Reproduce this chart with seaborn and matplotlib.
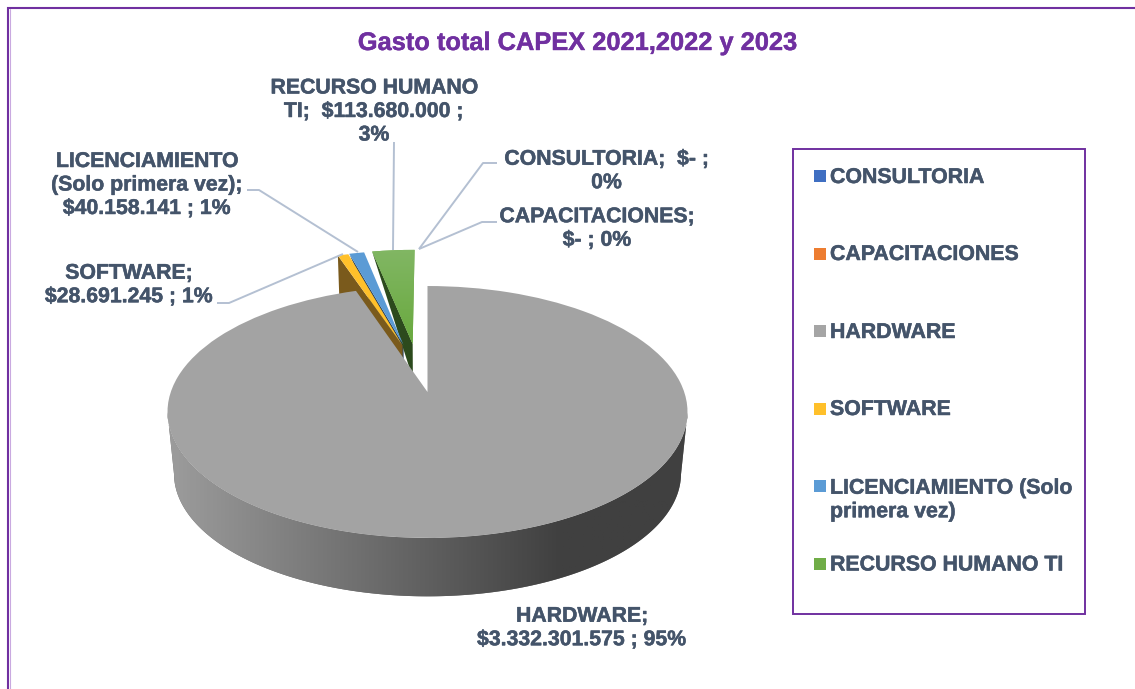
import numpy as np
import matplotlib
matplotlib.use("Agg")
import matplotlib.pyplot as plt
import matplotlib.patheffects as pe
from matplotlib.transforms import Transform
from matplotlib.colors import LinearSegmentedColormap
from matplotlib.patches import Rectangle
import seaborn as sns

categories = ["CONSULTORIA", "CAPACITACIONES", "HARDWARE", "SOFTWARE",
              "LICENCIAMIENTO (Solo\nprimera vez)", "RECURSO HUMANO TI"]
values = [0, 0, 3332301575, 28691245, 40158141, 113680000]
explode = [0.42, 0.42, 0, 0.39, 0.42, 0.42]
colors = ["#3f6fc2", "#ed7d31", "#a3a3a3", "#ffc02a", "#5b9bd5", "#70ad47"]
dark_colors = ["#24406f", "#8a4a1d", "#5a5a5a", "#7a5a1c", "#24405f", "#2c4a1d"]

title = "Gasto total CAPEX 2021,2022 y 2023"
data_labels = [
    "CONSULTORIA;  $- ;\n0%",
    "CAPACITACIONES;\n$- ; 0%",
    "HARDWARE;\n$3.332.301.575 ; 95%",
    "SOFTWARE;\n$28.691.245 ; 1%",
    "LICENCIAMIENTO\n(Solo primera vez);\n$40.158.141 ; 1%",
    "RECURSO HUMANO\nTI;  $113.680.000 ;\n3%",
]

PURPLE = "#7030a0"
TEXT = "#44546a"
LEADER = "#b4c0d2"

sns.set_theme(style="white")
plt.rcParams["font.family"] = ["Liberation Sans", "DejaVu Sans"]

# perspective projection of the unit disc onto the page (pixels)
CX, CY, A, B, K = 427.5, 392.0, 256.7, 122.8, 0.1587
BASE_SCALE, BASE_DROP = 0.975, 62.0


def project(x, y):
    w = 1 + K * np.asarray(y)
    return CX + A * np.asarray(x) / w, CY - B * np.asarray(y) / w


def project_base(x, y):
    sx, sy = project(x, y)
    return CX + (sx - CX) * BASE_SCALE, CY + (sy - CY) * BASE_SCALE + BASE_DROP


class Perspective(Transform):
    input_dims = output_dims = 2
    has_inverse = False
    is_separable = False

    def transform_non_affine(self, values):
        v = np.asarray(values, dtype=float)
        sx, sy = project(v[:, 0], v[:, 1])
        return np.column_stack([sx, sy])


fig = plt.figure(figsize=(11.35, 6.89), dpi=100, facecolor="white")
ax = fig.add_axes([0, 0, 1, 1])
wedges, _ = ax.pie(values, explode=explode, colors=colors, startangle=90,
                   counterclock=False, radius=1, wedgeprops={"linewidth": 0})
ax.set_aspect("auto")
persp = Perspective()
for w in wedges:
    w.set_transform(persp + ax.transData)

# small nudges of the separated slices
gx, gy = wedges[5].center
wedges[5].set_center((gx - 0.019, gy))
yx, yy = wedges[3].center
wedges[3].set_center((yx + 0.012, yy + 0.03))

face_z = {3: 3.0, 4: 4.0, 5: 5.0, 2: 7.0}
cut_z = {3: 2.0, 4: 1.0, 5: 1.0}
for i, w in enumerate(wedges):
    if values[i] == 0:
        w.set_visible(False)
        continue
    w.set_zorder(face_z[i])
    if i == 2:
        continue
    # cut face on the left edge of each separated slice
    cx, cy = w.center
    t = np.deg2rad(w.theta2)
    rx, ry = cx + np.cos(t), cy + np.sin(t)
    apex = np.array(project(cx, cy))
    apex_low = apex + (np.array(project_base(cx, cy)) - apex) * 0.55
    if i == 3:
        quad = [project(cx, cy), project(rx, ry), project_base(rx, ry), project_base(cx, cy)]
    else:
        quad = [tuple(apex), project(rx, ry), tuple(apex_low)]
    ax.fill(*zip(*quad), color=dark_colors[i], lw=0, zorder=cut_z[i])

# green slice has a soft vertical gradient
g = wedges[5]
cmap = LinearSegmentedColormap.from_list("g", ["#82b765", "#69a93e"])
im = ax.imshow(np.linspace(0, 1, 64).reshape(-1, 1), cmap=cmap, aspect="auto",
               extent=(360, 425, 345, 245), zorder=face_z[5] + 0.1)
im.set_clip_path(g)

# rim of the big slice, shaded from left to right
hw = wedges[2]
angles = np.deg2rad(np.linspace(hw.theta1, hw.theta2, 721))
angles = angles[np.sin(angles) < -K]
top_rim = np.column_stack(project(np.cos(angles), np.sin(angles)))
base_rim = np.column_stack(project_base(np.cos(angles), np.sin(angles)))
outline = np.vstack([top_rim, base_rim[::-1]])
side, = ax.fill(outline[:, 0], outline[:, 1], color="#6a6a6a", lw=0, zorder=face_z[2] - 0.2)
rim_cmap = LinearSegmentedColormap.from_list("rim", ["#9c9c9c", "#404040"])
rim_im = ax.imshow(np.clip(np.linspace(-0.02, 1.35, 256), 0, 1).reshape(1, -1), cmap=rim_cmap,
                   aspect="auto", extent=(160, 700, 600, 400), zorder=face_z[2] - 0.1)
rim_im.set_clip_path(side)

# leader lines
leaders = [
    ([394, 393], [142, 250]),
    ([497, 483, 419], [163, 163, 249]),
    ([497, 482, 419], [222, 222, 249]),
    ([247, 259, 358], [190, 190, 252]),
    ([217, 229, 343], [303, 303, 254]),
]
for xs, ys in leaders:
    ax.plot(xs, ys, color=LEADER, lw=1.4, zorder=8, solid_capstyle="butt")

heavy = [pe.withStroke(linewidth=0.35, foreground=TEXT)]
# data labels: centre x, centre y
label_pos = {0: (606.5, 171), 1: (597, 228.5), 2: (582, 628), 3: (129, 285), 4: (147, 185), 5: (374, 111.5)}
for i, (lx, ly) in label_pos.items():
    ax.text(lx, ly, data_labels[i], ha="center", va="center", fontsize=15.3, fontweight="bold",
            color=TEXT, linespacing=1.3, zorder=9, path_effects=heavy)

ax.text(577, 43, title, ha="center", va="center", fontsize=18.3, fontweight="bold", color=PURPLE,
        path_effects=[pe.withStroke(linewidth=0.3, foreground=PURPLE)])

# legend box
ax.add_patch(Rectangle((793, 149), 292, 465, fill=False, edgecolor=PURPLE, lw=1.4, zorder=3))
legend_y = [177.5, 254.5, 332.5, 409.5, 500, 565]
marker_y = [176, 254, 331, 409, 486, 564]
legend_colors = ["#3f6fc2", "#ed7d31", "#a5a5a5", "#ffc02a", "#5b9bd5", "#70ad47"]
for i, name in enumerate(categories):
    ax.add_patch(Rectangle((814, marker_y[i] - 6), 12, 12, facecolor=legend_colors[i],
                           edgecolor="none", zorder=4))
    ax.text(830, legend_y[i], name, ha="left", va="center", fontsize=15.35, fontweight="bold",
            color=TEXT, linespacing=1.3, zorder=4, path_effects=heavy)

# page frame
ax.plot([8, 8, 1135], [689, 8, 8], color=PURPLE, lw=1.5, zorder=10, solid_joinstyle="miter")
ax.plot([10, 10], [689, 9], color="#c9a9e0", lw=0.8, zorder=10)

ax.set_xlim(0, 1135)
ax.set_ylim(689, 0)
ax.set_axis_off()
fig.savefig("out.png", dpi=100)
